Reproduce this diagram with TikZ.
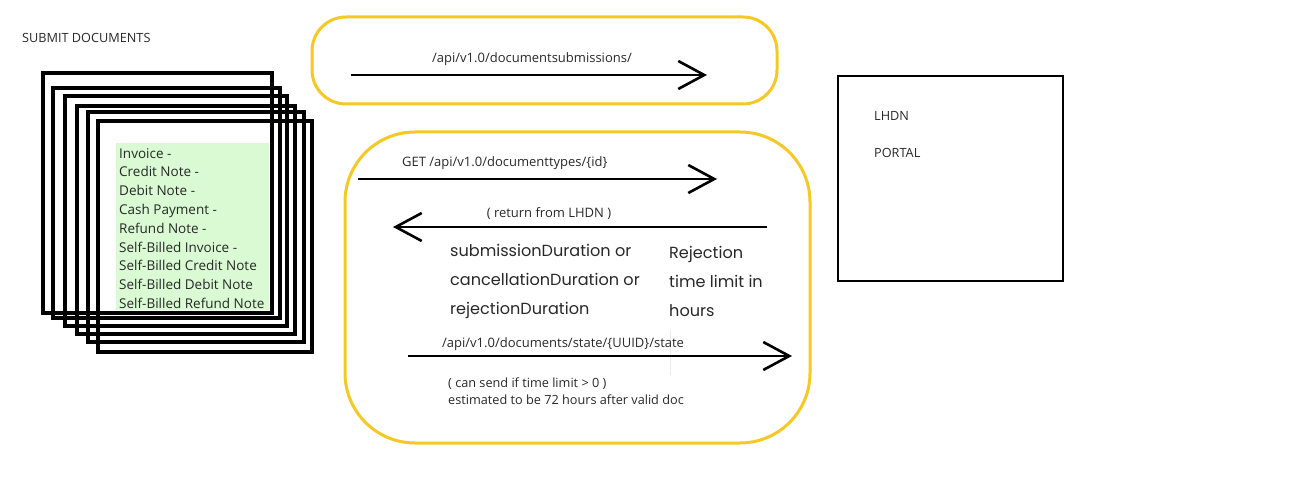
\documentclass[tikz,border=0pt]{standalone}
\usepackage{fontspec}
\setmainfont{Open Sans}
\newfontfamily\popp{Poppins}
\usetikzlibrary{arrows.meta}
\definecolor{ybord}{RGB}{245,200,35}
\definecolor{lgreen}{RGB}{217,250,210}
\definecolor{txt}{RGB}{40,40,40}
\tikzset{
  docbox/.style={draw=black,line width=3.3pt,fill=none},
  ybox/.style={draw=ybord,line width=3pt},
  conn/.style={line width=2.6pt,-{Straight Barb[length=26pt,width=28pt,line width=2.6pt]}},
  lbl/.style={inner sep=0pt,text=txt,yshift=-2.5pt,font=\fontsize{13}{15}\selectfont},
  plbl/.style={inner sep=0pt,text=txt,yshift=-3.5pt,font=\popp\fontsize{16.1}{18}\selectfont},
  note/.style={inner sep=0pt,text=txt,yshift=-2.5pt,font=\fontsize{12.7}{14}\selectfont},
}
\begin{document}
\begin{tikzpicture}[x=1pt,y=-1pt]
\useasboundingbox (0,0) rectangle (1307,500);
% stacked documents
\foreach \i/\a/\b/\c/\d in {1/43/73/272/313, 2/53/88/280/318, 3/65/96/287/326, 4/77/106/295/334, 5/88/112/304/342, 6/98/121/312/352}{
  \draw[docbox] (\a,\b) rectangle (\c,\d);
}
\node[note,anchor=mid west] (title) at (22,37) {SUBMIT DOCUMENTS};
\node[fill=lgreen,inner sep=0pt,minimum width=153pt,minimum height=167pt,anchor=north west] (green) at (116,143) {};
\foreach \t [count=\k from 0] in {Invoice -, Credit Note -, Debit Note -, Cash Payment -, Refund Note -, Self-Billed Invoice -, Self-Billed Credit Note, Self-Billed Debit Note, Self-Billed Refund Note}{
  \node[lbl,anchor=mid west,font=\fontsize{13.5}{15}\selectfont] (d\k) at (119,153+18.8*\k) {\t};
}
% top yellow box
\draw[ybox,rounded corners=34pt] (312,17) rectangle (777,104);
\coordinate (a1s) at (351,75);
\coordinate (a1e) at (707,75);
\draw[conn] (a1s) -- (a1e);
\node[lbl,anchor=mid] (l1) at (532,57) {/api/v1.0/documentsubmissions/};
% big yellow box
\draw[ybox,rounded corners=70pt] (345,132) rectangle (810,443);
\coordinate (a2s) at (358,179);
\coordinate (a2e) at (717,179);
\draw[conn] (a2s) -- (a2e);
\node[lbl,anchor=mid west] (l2) at (402,161) {GET /api/v1.0/documenttypes/\{id\}};
\coordinate (a3s) at (767,227);
\coordinate (a3e) at (393,227);
\draw[conn] (a3s) -- (a3e);
\node[lbl,anchor=mid] (l3) at (549,212) {( return from LHDN )};
\node[plbl,anchor=mid west] (p1) at (450,250) {submissionDuration or};
\node[plbl,anchor=mid west] (p2) at (450,279) {cancellationDuration or};
\node[plbl,anchor=mid west] (p3) at (450,308) {rejectionDuration};
\node[plbl,anchor=mid west] (r1) at (669,252) {Rejection};
\node[plbl,anchor=mid west] (r2) at (669,281) {time limit in};
\node[plbl,anchor=mid west] (r3) at (669,310) {hours};
\draw[gray!15,line width=0.8pt] (670,330) -- (670,375);
\coordinate (a4s) at (408,356);
\coordinate (a4e) at (792,356);
\draw[conn] (a4s) -- (a4e);
\node[lbl,anchor=mid west] (l4) at (442,342) {/api/v1.0/documents/state/\{UUID\}/state};
\node[note,anchor=mid west] (n1) at (448,382) {( can send if time limit > 0 )};
\node[note,anchor=mid west] (n2) at (448,399) {estimated to be 72 hours after valid doc};
% LHDN portal
\draw[docbox,line width=2.8pt] (838,76) rectangle (1063,281);
\node[note,anchor=mid west] (lh) at (874,115) {LHDN};
\node[note,anchor=mid west] (po) at (874,152) {PORTAL};
\end{tikzpicture}
\end{document}
